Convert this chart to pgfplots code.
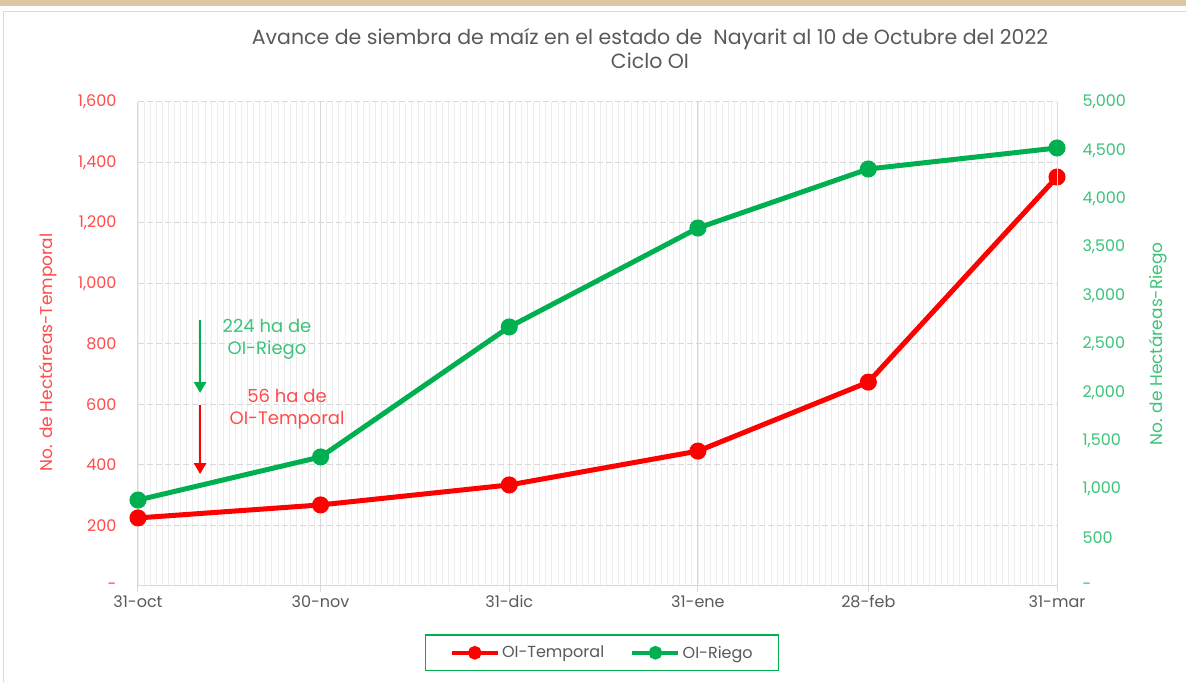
\documentclass[border=0pt]{standalone}
\usepackage{fontspec}
\setmainfont{Poppins}
\usepackage{pgfplots}
\usepackage{pgfplotstable}
\pgfplotsset{compat=1.18}
\usetikzlibrary{arrows.meta}
\definecolor{tred}{HTML}{FF0000}
\definecolor{rgreen}{HTML}{00B050}
\definecolor{lred}{HTML}{FF4B4B}
\definecolor{lgreen}{HTML}{3CC37A}
\definecolor{txtgray}{HTML}{595959}
\definecolor{gridc}{HTML}{D9D9D9}
\definecolor{minorc}{HTML}{EDEDED}
\definecolor{beige}{HTML}{DCC7A0}

\pgfplotstableread{
d v
0 225
30 268
61 334
92 446
120 674
151 1352
}\temporal
\pgfplotstableread{
d v
0 888
30 1333
61 2676
92 3698
120 4308
151 4525
}\riego

\begin{document}
\begin{tikzpicture}[font=\fontsize{16}{19}\selectfont]
\useasboundingbox (-138pt,-96pt) rectangle (1048pt,586pt);
\fill[beige] (-138pt,580pt) rectangle (1048pt,586pt);
\draw[gridc, line width=1pt] (-134pt,-96pt) -- (-134pt,574pt) -- (1048pt,574pt);
\node[txtgray, align=center, font=\fontsize{20.5}{24}\selectfont] at (512pt,537pt) {Avance de siembra de maíz en el estado de\ \ Nayarit al 10 de Octubre del 2022\\Ciclo OI};
\begin{axis}[
  at={(0pt,0pt)}, anchor=south west,
  scale only axis, width=919pt, height=484pt,
  xmin=0, xmax=151, ymin=0, ymax=1600,
  axis x line*=bottom, axis y line*=left,
  x axis line style={gridc, line width=1pt, -},
  y axis line style={gridc, line width=1pt, -},
  xtick={0,30,61,92,120,151},
  xticklabels={31-oct,30-nov,31-dic,31-ene,28-feb,31-mar},
  minor xtick={0,1,...,151},
  xmajorgrids, xminorgrids, ymajorgrids,
  major x grid style={gridc, line width=1pt},
  minor x grid style={minorc, line width=0.8pt},
  major y grid style={gridc, line width=1pt, dash pattern=on 6pt off 3pt},
  ytick={0,200,...,1600},
  yticklabels={-,200,400,600,800,{1,000},{1,200},{1,400},{1,600}},
  tick align=outside, major tick length=6pt, minor tick length=0pt,
  xtick style={gridc, line width=1pt},
  ytick style={draw=none},
  xticklabel style={txtgray},
  yticklabel style={lred, xshift=-12pt},
  ylabel={No. de Hectáreas-Temporal},
  ylabel style={lred, font=\fontsize{17}{20}\selectfont, at={(axis description cs:-0.098,0.483)}, anchor=center},
  clip=false,
]
\addplot[tred, line width=5pt, mark=*, mark size=6pt] table[x=d,y=v] {\temporal};
\draw[rgreen, line width=2.5pt, -{Triangle[length=11pt,width=12pt]}] (axis cs:10.2,879) -- (axis cs:10.2,638);
\draw[tred, line width=2.5pt, -{Triangle[length=11pt,width=12pt]}] (axis cs:10.2,598) -- (axis cs:10.2,370);
\node[lgreen, align=center, font=\fontsize{18}{22}\selectfont] at (axis cs:21.2,816) {224 ha de\\OI-Riego};
\node[lred, align=center, font=\fontsize{18}{22}\selectfont] at (axis cs:24.5,585) {56 ha de\\OI-Temporal};
\end{axis}
\begin{axis}[
  at={(0pt,0pt)}, anchor=south west,
  scale only axis, width=919pt, height=484pt,
  xmin=0, xmax=151, ymin=0, ymax=5000,
  axis x line=none, axis y line*=right,
  y axis line style={gridc, line width=1pt, -},
  ytick={0,500,...,5000},
  yticklabels={-,500,{1,000},{1,500},{2,000},{2,500},{3,000},{3,500},{4,000},{4,500},{5,000}},
  ytick style={draw=none},
  yticklabel style={lgreen, xshift=22pt},
  ylabel={No. de Hectáreas-Riego},
  ylabel style={lgreen, font=\fontsize{17}{20}\selectfont, at={(axis description cs:1.110,0.5)}, anchor=center},
  legend style={at={(0.505,-0.138)}, anchor=center, draw=rgreen, line width=1.5pt,
    text=txtgray, inner xsep=24pt, inner ysep=9pt, font=\fontsize{16}{19}\selectfont},
  legend columns=2,
  legend cell align=left,
  /tikz/every even column/.append style={column sep=24pt},
  legend image code/.code={\draw[#1, mark repeat=2, mark phase=2] plot coordinates {(0pt,0pt) (23pt,0pt) (46pt,0pt)};},
  clip=false,
]
\addlegendimage{tred, line width=4.5pt, mark=*, mark size=4.5pt}
\addlegendentry{OI-Temporal}
\addplot[rgreen, line width=5pt, mark=*, mark size=6pt, forget plot] table[x=d,y=v] {\riego};
\addlegendimage{rgreen, line width=4.5pt, mark=*, mark size=4.5pt}
\addlegendentry{OI-Riego}
\end{axis}
\end{tikzpicture}
\end{document}
